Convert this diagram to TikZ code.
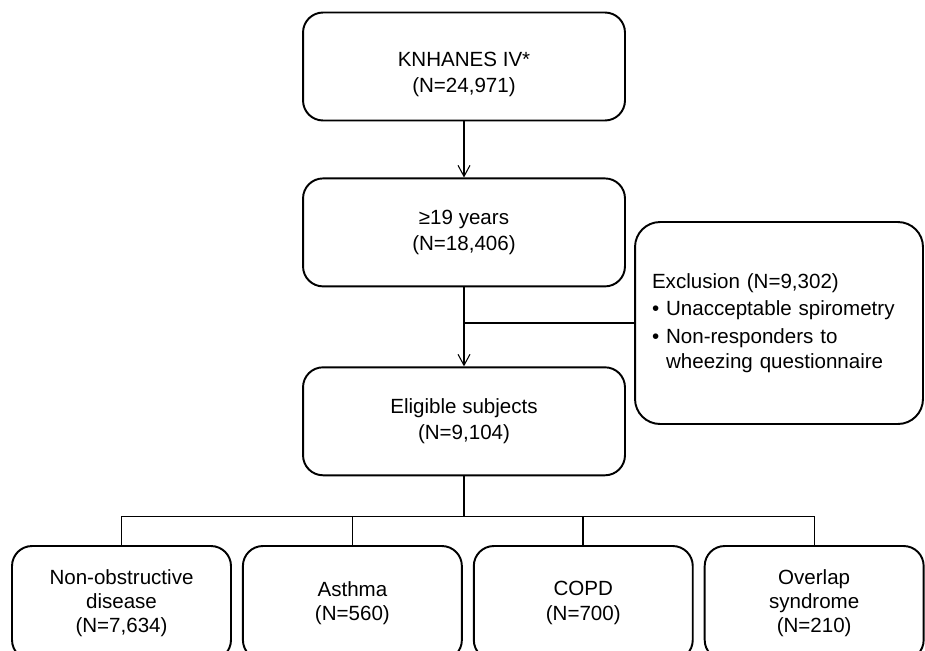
\documentclass[tikz,border=0pt]{standalone}
\usepackage{fontspec}
\setmainfont{Liberation Sans}
\usepackage{tikz}
\usetikzlibrary{positioning,arrows.meta,calc}
\tikzset{
  box/.style={rectangle, draw=black, line width=1.1pt, rounded corners=0.4cm, align=center, inner sep=3pt,
    font=\fontsize{11.7}{14.6}\selectfont},
  mainbox/.style={box, minimum width=6.44cm, minimum height=2.16cm},
  groupbox/.style={box, minimum width=4.38cm, minimum height=2.28cm, font=\fontsize{11.7}{13.8}\selectfont},
  arr/.style={-{Straight Barb[length=2.2mm,width=2.4mm]}, line width=0.6pt},
  link/.style={line width=0.6pt},
  drop/.style={line width=1pt}
}

\begin{document}
\begin{tikzpicture}[x=0.02cm, y=-0.02cm, node distance=0.2cm]
\useasboundingbox (0,0) rectangle (925,650);
% main column
\node[mainbox] (knh) at (464,66.5) {\rule{0pt}{17.5pt}KNHANES IV*\\(N=24,971)};
\node[mainbox, below=1.12cm of knh] (age) {≥19 years\\(N=18,406)};
\node[mainbox, below=1.58cm of age] (elig) {Eligible subjects\\(N=9,104)};
\node[box, rounded corners=0.5cm, minimum width=5.76cm, minimum height=4.04cm, text width=5.08cm,
  inner xsep=0.34cm, align=left, font=\fontsize{11.7}{14.2}\selectfont] (excl) at (779,323)
  {Exclusion (N=9,302)\\[1.5pt]
   \textbullet\ Unacceptable spirometry\\[1.5pt]
   \textbullet\ Non-responders to\\
   \phantom{\textbullet}\ wheezing questionnaire};
\draw[arr] (knh) -- (age);
\draw[arr] (age) -- (elig);
\draw[link] (excl.west) -- (excl.west -| age.south);
% groups
\node[groupbox] (nonobs) at (121.5,603) {Non-obstructive\\disease\\(N=7,634)};
\node[groupbox, right=of nonobs] (asthma) {Asthma\\(N=560)};
\node[groupbox, right=of asthma] (copd) {COPD\\(N=700)};
\node[groupbox, right=of copd] (overlap) {Overlap\\syndrome\\(N=210)};
\coordinate (split) at ($(elig.south)+(0,40)$);
\draw[link] (elig.south) -- (split);
\draw[link] (nonobs.north) |- (split) -| (overlap.north);
\draw[drop] (asthma.north) -- (asthma.north |- split);
\draw[drop] (copd.north) -- (copd.north |- split);
\end{tikzpicture}
\end{document}
